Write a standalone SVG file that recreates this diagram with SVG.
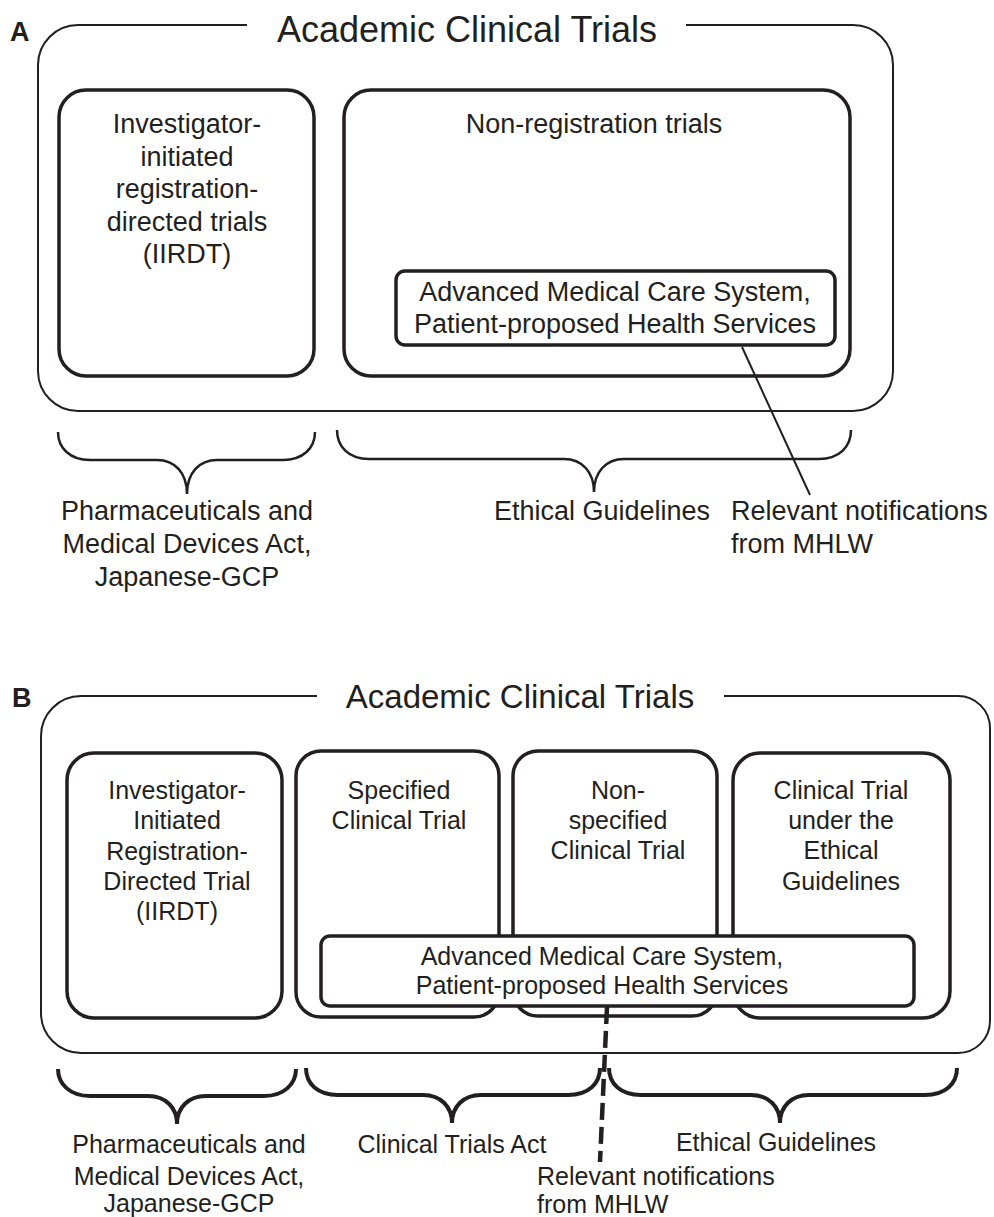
<svg xmlns="http://www.w3.org/2000/svg" width="994" height="1217" viewBox="0 0 994 1217">
<style>
text{font-family:"Liberation Sans",Arial,sans-serif;fill:#231f20}
.c{text-anchor:middle}
.lbl{font-weight:bold;font-size:27px}
.box{fill:#fff;stroke:#231f20;stroke-width:3.5}
.outer{fill:none;stroke:#231f20;stroke-width:2}
.braceA{fill:none;stroke:#231f20;stroke-width:2.5}
.braceB{fill:none;stroke:#231f20;stroke-width:4}
.t27{font-size:27px}
.t25{font-size:25px}
</style>
<rect width="994" height="1217" fill="#fff"/>

<!-- Panel A -->
<g id="panelA-label"><text class="lbl" x="10" y="41">A</text></g>
<g id="A-academic">
<path class="outer" d="M247,25 H78 A40,40 0 0 0 38,65 V371 A40,40 0 0 0 78,411 H853 A40,40 0 0 0 893,371 V65 A40,40 0 0 0 853,25 H686"/>
<text class="c" x="467" y="42" font-size="36">Academic Clinical Trials</text>
</g>
<g id="A-iirdt">
<rect class="box" x="59" y="90" width="255" height="286" rx="27"/>
<text class="c t27" x="187" y="133">Investigator-</text>
<text class="c t27" x="187" y="166">initiated</text>
<text class="c t27" x="187" y="198">registration-</text>
<text class="c t27" x="187" y="231">directed trials</text>
<text class="c t27" x="187" y="263">(IIRDT)</text>
</g>
<g id="A-nonreg">
<rect class="box" x="344" y="90" width="506" height="286" rx="27"/>
<text class="c t27" x="594" y="133">Non-registration trials</text>
</g>
<g id="A-amcs">
<rect class="box" x="396" y="271" width="439" height="74" rx="9"/>
<text class="c t27" x="615" y="301">Advanced Medical Care System,</text>
<text class="c t27" x="615" y="333">Patient-proposed Health Services</text>
</g>
<g id="A-brace-pmd">
<path class="braceA" d="M58,432 C58,448 70,460 90,460 L157,460 C175,460 187,473 187,494 C187,473 199,460 217,460 L283,460 C303,460 315,448 315,432"/>
<text class="c t27" x="187" y="520">Pharmaceuticals and</text>
<text class="c t27" x="187" y="553">Medical Devices Act,</text>
<text class="c t27" x="187" y="586">Japanese-GCP</text>
</g>
<g id="A-brace-eth">
<path class="braceA" d="M337,430 C337,447 349,459 369,459 L564,459 C582,459 594,472 594,492 C594,472 606,459 624,459 L819,459 C839,459 851,447 851,430"/>
<text class="c t27" x="602" y="520">Ethical Guidelines</text>
</g>
<g id="A-notif">
<text class="t27" x="731" y="520">Relevant notifications</text>
<text class="t27" x="731" y="553">from MHLW</text>
</g>

<!-- Panel B -->
<g id="panelB-label"><text class="lbl" x="12" y="707">B</text></g>
<g id="B-academic">
<path class="outer" d="M317,696 H81 A40,40 0 0 0 41,736 V1013 A40,40 0 0 0 81,1053 H958 A32,32 0 0 0 990,1021 V728 A32,32 0 0 0 958,696 H724"/>
<text class="c" x="520" y="708" font-size="33">Academic Clinical Trials</text>
</g>
<g id="B-iirdt">
<rect class="box" x="67" y="753" width="215" height="265" rx="27"/>
<text class="c t25" x="177" y="799">Investigator-</text>
<text class="c t25" x="177" y="829">Initiated</text>
<text class="c t25" x="177" y="860">Registration-</text>
<text class="c t25" x="177" y="890">Directed Trial</text>
<text class="c t25" x="177" y="920">(IIRDT)</text>
</g>
<g id="B-specified">
<rect class="box" x="296" y="751" width="203" height="266" rx="25"/>
<text class="c t25" x="399" y="799">Specified</text>
<text class="c t25" x="399" y="829">Clinical Trial</text>
</g>
<g id="B-nonspecified">
<rect class="box" x="513" y="751" width="204" height="265" rx="25"/>
<text class="c t25" x="618" y="799">Non-</text>
<text class="c t25" x="618" y="829">specified</text>
<text class="c t25" x="618" y="859">Clinical Trial</text>
</g>
<g id="B-ethical">
<rect class="box" x="733" y="753" width="217" height="265" rx="27"/>
<text class="c t25" x="841" y="799">Clinical Trial</text>
<text class="c t25" x="841" y="829">under the</text>
<text class="c t25" x="841" y="859">Ethical</text>
<text class="c t25" x="841" y="890">Guidelines</text>
</g>
<g id="B-amcs">
<rect class="box" x="321" y="936" width="593" height="70" rx="9"/>
<text class="c t25" x="602" y="965">Advanced Medical Care System,</text>
<text class="c t25" x="602" y="994">Patient-proposed Health Services</text>
</g>
<g id="B-brace-pmd">
<path class="braceB" d="M58,1069 C58,1084 70,1096 90,1096 L148,1096 C166,1096 177,1108 177,1124 C177,1108 188,1096 206,1096 L264,1096 C284,1096 296,1084 296,1069"/>
<text class="c t25" x="189" y="1153">Pharmaceuticals and</text>
<text class="c t25" x="189" y="1185">Medical Devices Act,</text>
<text class="c t25" x="189" y="1212">Japanese-GCP</text>
</g>
<g id="B-brace-cta">
<path class="braceB" d="M306,1068 C306,1084 318,1095 338,1095 L423,1095 C441,1095 452,1107 452,1123 C452,1107 463,1095 481,1095 L568,1095 C588,1095 600,1084 600,1068"/>
<text class="c t25" x="452" y="1153">Clinical Trials Act</text>
</g>
<g id="B-brace-eth">
<path class="braceB" d="M609,1068 C609,1084 621,1095 641,1095 L751,1095 C769,1095 780,1107 780,1123 C780,1107 791,1095 809,1095 L925,1095 C945,1095 957,1084 957,1068"/>
<text class="c t25" x="776" y="1151">Ethical Guidelines</text>
</g>
<g id="B-notif">
<text class="t25" x="537" y="1185">Relevant notifications</text>
<text class="t25" x="537" y="1213">from MHLW</text>
</g>

<g id="connectors">
<line x1="742" y1="347" x2="810" y2="495" stroke="#231f20" stroke-width="2"/>
<line x1="607" y1="1007" x2="600" y2="1162" stroke="#231f20" stroke-width="4.5" stroke-dasharray="17 7"/>
</g>
</svg>
